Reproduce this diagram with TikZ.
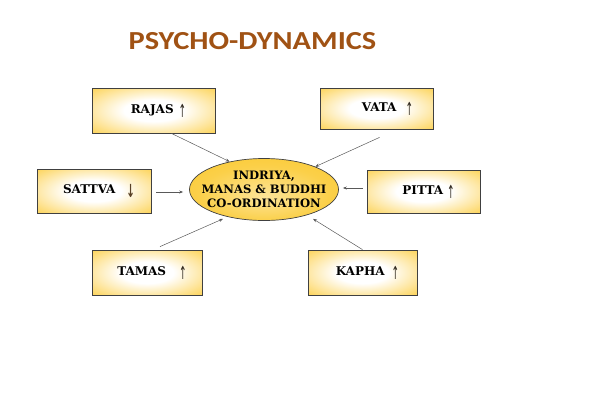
\documentclass[tikz,border=0pt]{standalone}
\usepackage{fontspec}
\usepackage{amsmath, amssymb}
\usepackage{graphicx}
\usepackage{tikz}
\usetikzlibrary{arrows.meta, positioning, shapes.geometric}

\newfontfamily\titlefont{Carlito}
\newfontfamily\labelfont{DejaVu Serif}
\newfontfamily\markfont{DejaVu Sans}
\definecolor{boxgold}{RGB}{252,196,30}
\definecolor{coregold}{RGB}{250,196,28}
\definecolor{titlebrown}{RGB}{160,82,20}
\definecolor{markgray}{RGB}{45,38,28}
\pgfdeclareradialshading{boxglow}{\pgfpoint{0bp}{0bp}}{color(0bp)=(white); color(12bp)=(white); color(44bp)=(boxgold); color(50bp)=(boxgold)}
\pgfdeclareradialshading{coreglow}{\pgfpoint{0bp}{-6bp}}{color(0bp)=(coregold!45!white); color(22bp)=(coregold!80!white); color(48bp)=(coregold)}
\newcommand{\markup}{\raisebox{-4pt}{\textcolor{markgray}{\markfont\mdseries\scalebox{0.75}[1.5]{↑}}}}
\newcommand{\markdown}{\raisebox{-4pt}{\textcolor{markgray!70!brown}{\markfont\bfseries\scalebox{0.85}[1.5]{↓}}}}

\begin{document}
\begin{tikzpicture}[
  x=1pt, y=-1pt,
  box/.style={draw=black!75, line width=0.8pt, shading=boxglow, minimum width=112pt, minimum height=44pt, inner sep=0pt,
    font=\labelfont\bfseries\fontsize{12}{12}\selectfont, execute at begin node={\hspace*{10pt}}},
  core/.style={ellipse, draw=black!75, line width=0.7pt, shading=coreglow, minimum width=149pt, minimum height=62pt,
    inner xsep=-12pt, inner ysep=0pt, align=center, font=\labelfont\bfseries\fontsize{11.6}{14}\selectfont},
  conn/.style={-{Stealth[length=4pt, width=3pt]}, draw=black!65, line width=0.5pt}
]
\path[use as bounding box] (0,0) rectangle (597,410);

\node[text=titlebrown, font=\titlefont\bfseries\fontsize{26}{30}\selectfont] (title) at (252.5,41) {\scalebox{1.17}[1]{PSYCHO-DYNAMICS}};

\node[core] (core) at (264,189.5) {INDRIYA,\\MANAS \& BUDDHI\\CO-ORDINATION};

\node[box, minimum width=123pt, minimum height=45pt] (rajas) at (153.5,110.5) {RAJAS\hspace{5pt}\markup};
\node[box, minimum width=113pt, minimum height=41pt] (vata) at (376.5,108.5) {\hspace*{12pt}VATA\hspace{9pt}\markup};
\node[box, minimum width=114pt] (sattva) at (94,191) {SATTVA\hspace{11pt}\markdown};
\node[box, minimum width=113pt, minimum height=43pt] (pitta) at (423.5,191.5) {PITTA\hspace{4pt}\markup};
\node[box, minimum width=110pt, minimum height=45pt] (tamas) at (147,272.5) {TAMAS\hspace{13pt}\markup};
\node[box, minimum width=109pt, minimum height=45pt] (kapha) at (362.5,272.5) {KAPHA\hspace{7pt}\markup};

% influences on the co-ordination
\draw[conn] ([xshift=18pt]rajas.south) -- (core.141);
\draw[conn] ([xshift=3pt, yshift=-8pt]vata.south) -- (core.24);
\draw[conn] ([xshift=5pt, yshift=-1pt]sattva.east) -- ([xshift=-6pt, yshift=-2.5pt]core.west);
\draw[conn] ([xshift=-4pt, yshift=3.5pt]pitta.west) -- ([xshift=4pt, yshift=1.5pt]core.east);
\draw[conn] ([xshift=13pt, yshift=3pt]tamas.north) -- ([xshift=-41pt, yshift=2pt]core.south);
\draw[conn] (kapha.north) -- ([xshift=49pt, yshift=2pt]core.south);
\end{tikzpicture}
\end{document}
